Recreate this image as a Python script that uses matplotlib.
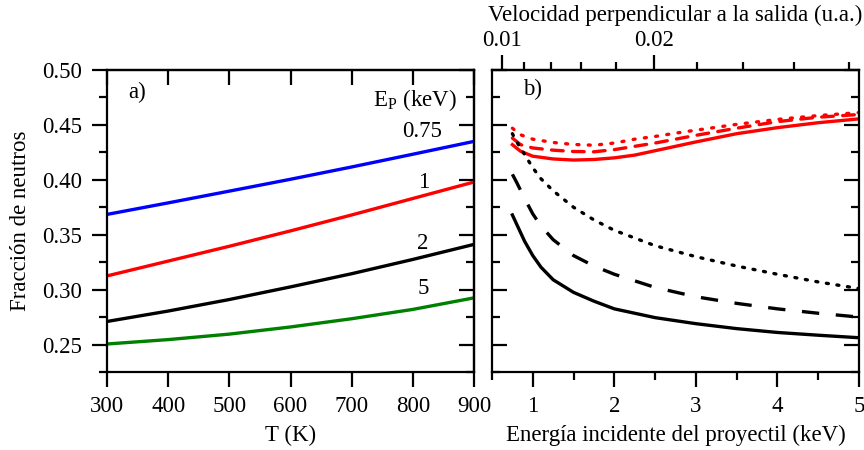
import numpy as np
import matplotlib
matplotlib.use("Agg")
import matplotlib.pyplot as plt
from matplotlib.ticker import MultipleLocator, FixedLocator

plt.rcParams['font.family'] = ['Liberation Serif', 'DejaVu Serif']
plt.rcParams['mathtext.fontset'] = 'custom'
plt.rcParams['mathtext.rm'] = 'Liberation Serif'
plt.rcParams['font.size'] = 16.5

# ---- panel a) data ----
T = [300, 400, 500, 600, 700, 800, 900]
frac_075 = [0.3685, 0.3790, 0.3897, 0.4005, 0.4117, 0.4233, 0.4350]
frac_1 = [0.3125, 0.3260, 0.3395, 0.3535, 0.3680, 0.3830, 0.3980]
frac_2 = [0.2710, 0.2805, 0.2910, 0.3025, 0.3145, 0.3275, 0.3412]
frac_5 = [0.2505, 0.2545, 0.2595, 0.2660, 0.2735, 0.2820, 0.2925]
labels_a = ["0.75", "1", "2", "5"]

# ---- panel b) data ----
E_red = [0.75, 0.85, 1.0, 1.25, 1.5, 1.75, 2.0, 2.25, 2.5, 2.75, 3.0, 3.5, 4.0, 4.5, 5.0]
red_solid = [0.432, 0.426, 0.4215, 0.419, 0.418, 0.4185, 0.420, 0.4225, 0.4265, 0.4305, 0.4345, 0.442, 0.4475, 0.452, 0.4555]
red_dashed = [0.438, 0.432, 0.429, 0.427, 0.4258, 0.4255, 0.4275, 0.4305, 0.4335, 0.437, 0.4405, 0.447, 0.453, 0.457, 0.4595]
red_dotted = [0.447, 0.441, 0.437, 0.434, 0.4322, 0.4315, 0.4335, 0.437, 0.4395, 0.4425, 0.4452, 0.4505, 0.455, 0.4585, 0.4612]

E_blk = [0.75, 0.8, 0.9, 1.0, 1.1, 1.25, 1.5, 1.75, 2.0, 2.5, 3.0, 3.5, 4.0, 4.5, 5.0]
blk_solid = [0.368, 0.360, 0.344, 0.331, 0.3205, 0.309, 0.2975, 0.2895, 0.2825, 0.2745, 0.269, 0.2645, 0.261, 0.2585, 0.2562]
blk_dashed = [0.405, 0.398, 0.383, 0.369, 0.358, 0.3455, 0.331, 0.3215, 0.314, 0.302, 0.2935, 0.2875, 0.2825, 0.2785, 0.275]
blk_dotted = [0.442, 0.435, 0.423, 0.411, 0.401, 0.390, 0.375, 0.3635, 0.354, 0.340, 0.330, 0.3215, 0.314, 0.307, 0.301]

v_major = [0.01, 0.02]
v_minor = [0.012, 0.014, 0.016, 0.018, 0.022, 0.024, 0.026, 0.028]
K_V = 0.01268  # v_perp = K_V * sqrt(E[keV])

fig = plt.figure(figsize=(8.64, 4.5), dpi=100)
axa = fig.add_axes([107/864, 78/450, 367/864, 302/450])
axb = fig.add_axes([492/864, 78/450, 367/864, 302/450])

lw = 2.4
axa.plot(T, frac_075, color='#0000ff', lw=lw, solid_capstyle='butt')
axa.plot(T, frac_1, color='#ff0000', lw=lw, solid_capstyle='butt')
axa.plot(T, frac_2, color='black', lw=lw, solid_capstyle='butt')
axa.plot(T, frac_5, color='#008000', lw=lw, solid_capstyle='butt')

axb.plot(E_red, red_dotted, color='#ff0000', lw=lw, ls=(0, (0.6, 2.8)), dash_capstyle='round')
axb.plot(E_red, red_dashed, color='#ff0000', lw=lw, ls=(0, (3.5, 2.8)), dash_capstyle='round')
axb.plot(E_red, red_solid, color='#ff0000', lw=lw)
axb.plot(E_blk, blk_dotted, color='black', lw=lw, ls=(0, (0.6, 2.6)), dash_capstyle='round')
axb.plot(E_blk, blk_dashed, color='black', lw=lw, ls=(0, (5.2, 5.0)))
axb.plot(E_blk, blk_solid, color='black', lw=lw)

for ax in (axa, axb):
    ax.set_ylim(0.225, 0.50)
    for s in ax.spines.values():
        s.set_linewidth(1.6)
    ax.yaxis.set_major_locator(MultipleLocator(0.05))
    ax.yaxis.set_minor_locator(MultipleLocator(0.025))

# panel a axes
axa.set_xlim(300, 900)
axa.xaxis.set_major_locator(MultipleLocator(100))
axa.tick_params(axis='x', which='major', direction='out', length=11, width=1.6, top=False, pad=6)
axa.tick_params(axis='y', which='major', direction='out', length=11, width=1.6, right=False, pad=7)
axa.tick_params(axis='y', which='minor', direction='out', length=5.5, width=1.6, right=False)
axa.set_yticks([0.25, 0.30, 0.35, 0.40, 0.45, 0.50])
axa.set_yticklabels(["0.25", "0.30", "0.35", "0.40", "0.45", "0.50"])
secr = axa.secondary_yaxis('right')
secr.yaxis.set_major_locator(MultipleLocator(0.05))
secr.yaxis.set_minor_locator(MultipleLocator(0.025))
secr.tick_params(which='major', direction='in', length=11, width=1.6, labelright=False)
secr.tick_params(which='minor', direction='in', length=5.5, width=1.6)
secr.spines['right'].set_linewidth(1.6)
sect = axa.secondary_xaxis('top')
sect.xaxis.set_major_locator(MultipleLocator(100))
sect.tick_params(which='major', direction='in', length=11, width=1.6, labeltop=False)
sect.spines['top'].set_linewidth(1.6)
axa.set_xlabel("T (K)", labelpad=6)
axa.set_ylabel("Fracción de neutros", labelpad=8)

axa.text(0.057, 0.924, "a)", transform=axa.transAxes, ha='left', va='center')
axa.text(0.954, 0.90, r"E$_\mathrm{P}$ (keV)", transform=axa.transAxes, ha='right', va='center')
pos_a = [(0.913, 0.795), (0.877, 0.629), (0.877, 0.427), (0.877, 0.275)]
for lab, (px, py) in zip(labels_a, pos_a):
    axa.text(px, py, lab, transform=axa.transAxes, ha='right', va='center')

# panel b axes
axb.set_xlim(0.5, 5.0)
axb.xaxis.set_major_locator(MultipleLocator(1))
axb.xaxis.set_minor_locator(MultipleLocator(0.5))
axb.tick_params(axis='x', which='major', direction='out', length=11, width=1.6, top=False, pad=6)
axb.tick_params(axis='x', which='minor', direction='out', length=5.5, width=1.6, top=False)
axb.tick_params(axis='y', which='major', direction='in', length=11, width=1.6, left=True, right=True, labelleft=False)
axb.tick_params(axis='y', which='minor', direction='in', length=5.5, width=1.6, left=True, right=True)
axb.set_xlabel("Energía incidente del proyectil (keV)", labelpad=6)
axb.text(0.0845, 0.934, "b)", transform=axb.transAxes, ha='left', va='center')

def e2v(e):
    return K_V * np.sqrt(np.maximum(np.asarray(e, dtype=float), 0))

def v2e(v):
    return (np.asarray(v, dtype=float) / K_V) ** 2

topb = axb.secondary_xaxis('top', functions=(e2v, v2e))
topb.xaxis.set_major_locator(FixedLocator(v_major))
topb.xaxis.set_minor_locator(FixedLocator(v_minor))
topb.set_xticklabels(["0.01", "0.02"])
topb.tick_params(which='major', direction='out', length=11, width=1.6, pad=3)
topb.tick_params(which='minor', direction='out', length=6, width=1.6)
topb.spines['top'].set_linewidth(1.6)
topb.set_xlabel("Velocidad perpendicular a la salida (u.a.)", labelpad=6)

fig.savefig("out.png", dpi=100)
